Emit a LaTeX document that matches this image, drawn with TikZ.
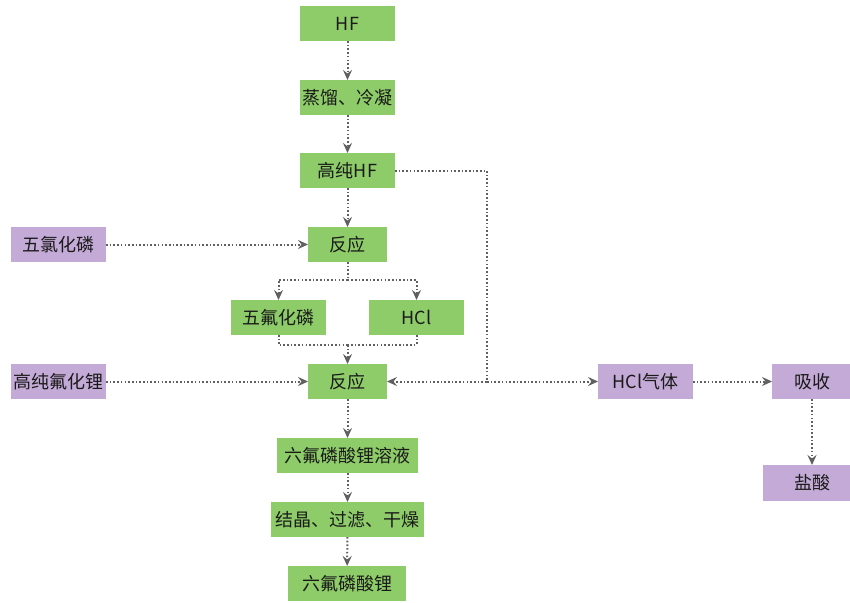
\documentclass[tikz,border=0pt]{standalone}
\usepackage{fontspec}
\usepackage{xcolor}
\usetikzlibrary{arrows.meta}
\newfontfamily\cjk{Noto Sans CJK SC}
\definecolor{mygreen}{RGB}{141,204,104}
\definecolor{mypurple}{RGB}{196,170,214}
\definecolor{mygray}{RGB}{96,96,96}
\definecolor{mytext}{RGB}{26,26,26}
\tikzset{
  >={Stealth[length=10pt,width=9pt,inset=3.5pt]}, % grey stealth tips
  box/.style={minimum height=35,inner sep=0,outer sep=0,text=mytext,
    font=\cjk\fontsize{18}{20}\selectfont},
  box green/.style={box,fill=mygreen},
  box purple/.style={box,fill=mypurple},
  link/.style={mygray,line width=2pt,dash pattern=on 1.6pt off 2.1pt},
  flow/.style={link,->}
}
\begin{document}
\begin{tikzpicture}[x=1pt,y=-1pt]
\clip (0,0) rectangle (850,602);
\path
(347.5,23.5)  node[box green,minimum width=95]  (hf) {HF}
(347.5,97.5)  node[box green,minimum width=95]  (dist) {蒸馏、冷凝}
(347.5,170.5) node[box green,minimum width=95]  (hfp) {高纯HF}
(347.5,244.5) node[box green,minimum width=79]  (r1) {反应}
(58.5,244.5)  node[box purple,minimum width=95] (pcl) {五氯化磷}
(278.5,317.5) node[box green,minimum width=95]  (pf) {五氟化磷}
(416.5,317.5) node[box green,minimum width=95]  (hcl) {HCl}
(347.5,381.5) node[box green,minimum width=79]  (r2) {反应}
(58.5,381.5)  node[box purple,minimum width=95] (lif) {高纯氟化锂}
(347.5,455.5) node[box green,minimum width=141] (sol) {六氟磷酸锂溶液}
(347.5,519.5) node[box green,minimum width=153] (cry) {结晶、过滤、干燥}
(347,583.5)   node[box green,minimum width=118] (lpf) {六氟磷酸锂}
(645.5,381.5) node[box purple,minimum width=95] (gas) {HCl气体}
(812,381.5)   node[box purple,minimum width=80] (abs) {吸收}
(812,483)     node[box purple,minimum width=98,minimum height=36] (acid) {盐酸};
\coordinate (split) at (347.5,280);
\coordinate (merge) at (347.5,345);
\coordinate (jn) at (487,381.5);
\draw[flow] (hf)--(dist);
\draw[flow] (dist)--(hfp);
\draw[flow] (hfp)--(r1);
\draw[flow] (pcl)--(r1);
\draw[link] (r1)--(split);
\draw[flow] (split) -| (pf);
\draw[flow] (split) -| (hcl);
\draw[link] (pf) |- (merge);
\draw[link] (hcl) |- (merge);
\draw[flow] (merge)--(r2);
\draw[flow] (lif)--(r2);
\draw[flow] (hfp) -| (jn) -- (r2);
\draw[flow] (jn)--(gas);
\draw[flow] (gas)--(abs);
\draw[flow] (abs)--(acid);
\draw[flow] (r2)--(sol);
\draw[flow] (sol)--(cry);
\draw[flow] (cry)--(lpf);
\end{tikzpicture}
\end{document}
